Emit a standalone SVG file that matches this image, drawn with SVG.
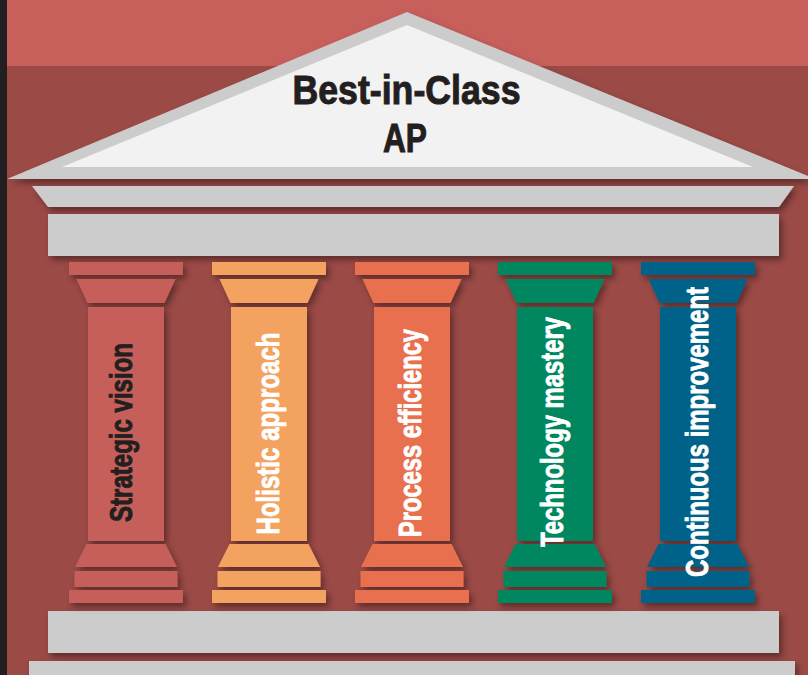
<svg xmlns="http://www.w3.org/2000/svg" width="808" height="675" viewBox="0 0 808 675">
<defs>
<filter id="sh" x="-20%" y="-20%" width="140%" height="150%">
<feDropShadow dx="3" dy="4" stdDeviation="3" flood-color="#000" flood-opacity="0.4"/>
</filter>
<g id="pillar">
<rect x="-57" y="262" width="114" height="13"/>
<polygon points="-49.5,279 49.5,279 38.5,303 -38.5,303"/>
<rect x="-38" y="307" width="76" height="234"/>
<polygon points="-39.5,544 39.5,544 51,567 -51,567"/>
<rect x="-51.5" y="571" width="103" height="16"/>
<rect x="-57" y="590" width="114" height="13"/>
</g>
</defs>
<style>
.grey{fill:#cccccc}
.light{fill:#f2f2f2}
.title{font-family:"Liberation Sans",Arial,sans-serif;font-weight:bold;font-size:40px;fill:#231f20;stroke:#231f20;stroke-width:1;text-anchor:middle}
.lbl{font-family:"Liberation Sans",Arial,sans-serif;font-weight:bold;font-size:32px;stroke-width:0.9;text-anchor:middle}
</style>
<rect x="0" y="0" width="808" height="675" fill="#9b4a46"/>
<rect x="0" y="0" width="808" height="66" fill="#c75f5b"/>
<rect x="0" y="0" width="7" height="675" fill="#231f20"/>

<g id="roof">
<g filter="url(#sh)">
<polygon class="grey" points="7,179 407,12 808,176 808,179"/>
</g>
<polygon class="light" points="62,167 407,25 753,167"/>
<text class="title" x="406.5" y="104" textLength="228" lengthAdjust="spacingAndGlyphs">Best-in-Class</text>
<text class="title" x="405" y="152" textLength="44" lengthAdjust="spacingAndGlyphs">AP</text>
</g>

<g id="entablature" filter="url(#sh)">
<polygon class="grey" points="32,186 794,186 779,207 48,207"/>
<rect class="grey" x="48" y="214" width="731" height="42"/>
</g>

<g id="base" filter="url(#sh)">
<rect class="grey" x="48" y="611" width="731" height="42"/>
<rect class="grey" x="29" y="661" width="766" height="20"/>
</g>

<g id="pillar1">
<use href="#pillar" x="126" fill="#c65f5a" filter="url(#sh)"/>
<text class="lbl" fill="#231f20" stroke="#231f20" transform="translate(132,432.5) rotate(-90)" textLength="179" lengthAdjust="spacingAndGlyphs">Strategic vision</text>
</g>
<g id="pillar2">
<use href="#pillar" x="269" fill="#f3a261" filter="url(#sh)"/>
<text class="lbl" fill="#ffffff" stroke="#ffffff" transform="translate(279,433.5) rotate(-90)" textLength="202" lengthAdjust="spacingAndGlyphs">Holistic approach</text>
</g>
<g id="pillar3">
<use href="#pillar" x="412" fill="#e8704f" filter="url(#sh)"/>
<text class="lbl" fill="#ffffff" stroke="#ffffff" transform="translate(421,433) rotate(-90)" textLength="208" lengthAdjust="spacingAndGlyphs">Process efficiency</text>
</g>
<g id="pillar4">
<use href="#pillar" x="555" fill="#038761" filter="url(#sh)"/>
<text class="lbl" fill="#ffffff" stroke="#ffffff" transform="translate(563,432) rotate(-90)" textLength="230" lengthAdjust="spacingAndGlyphs">Technology mastery</text>
</g>
<g id="pillar5">
<use href="#pillar" x="698" fill="#066288" filter="url(#sh)"/>
<text class="lbl" fill="#ffffff" stroke="#ffffff" transform="translate(708,432) rotate(-90)" textLength="290" lengthAdjust="spacingAndGlyphs">Continuous improvement</text>
</g>
<g id="connectors"/>
</svg>
